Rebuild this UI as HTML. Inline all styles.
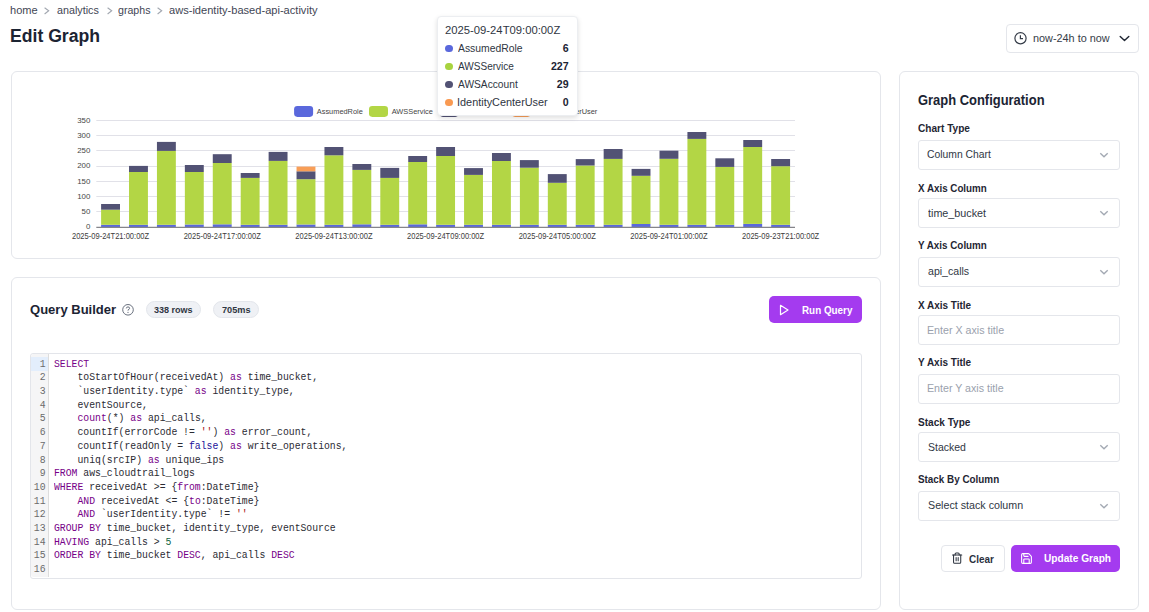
<!DOCTYPE html>
<html><head><meta charset="utf-8"><title>Edit Graph</title>
<style>
html,body{margin:0;padding:0;background:#ffffff;width:1149px;height:612px;overflow:hidden;position:relative}
.a{position:absolute}
.t{position:absolute;white-space:pre;font-family:"Liberation Sans",sans-serif}
.m{position:absolute;white-space:pre;font-family:"Liberation Mono",monospace;font-size:10.5px;line-height:13.65px;height:13.65px;color:#2b2b33}
.box{position:absolute;box-sizing:border-box;border:1px solid #e4e6eb;background:#ffffff}
</style></head><body>
<div class="t" style="left:9.88px;top:5.46px;font-size:10.8px;line-height:10.8px;font-weight:400;color:#3f4654;transform:scaleX(1.0230);transform-origin:0 0;">home</div>
<div class="t" style="left:56.52px;top:5.46px;font-size:10.8px;line-height:10.8px;font-weight:400;color:#3f4654;transform:scaleX(0.9964);transform-origin:0 0;">analytics</div>
<div class="t" style="left:117.88px;top:5.46px;font-size:10.8px;line-height:10.8px;font-weight:400;color:#3f4654;transform:scaleX(0.9833);transform-origin:0 0;">graphs</div>
<div class="t" style="left:169.10px;top:5.46px;font-size:10.8px;line-height:10.8px;font-weight:400;color:#3f4654;transform:scaleX(1.0269);transform-origin:0 0;">aws-identity-based-api-activity</div>
<svg class="a" style="left:44.0px;top:6.6px" width="6" height="8" viewBox="0 0 6 8"><path d="M0.6 0.7 L4.7 3.8 L0.6 7.0" fill="none" stroke="#a2a7b0" stroke-width="1.1"/></svg>
<svg class="a" style="left:106.5px;top:6.6px" width="6" height="8" viewBox="0 0 6 8"><path d="M0.6 0.7 L4.7 3.8 L0.6 7.0" fill="none" stroke="#a2a7b0" stroke-width="1.1"/></svg>
<svg class="a" style="left:157.0px;top:6.6px" width="6" height="8" viewBox="0 0 6 8"><path d="M0.6 0.7 L4.7 3.8 L0.6 7.0" fill="none" stroke="#a2a7b0" stroke-width="1.1"/></svg>
<div class="t" style="left:10.35px;top:27.11px;font-size:18.3px;line-height:18.3px;font-weight:700;color:#1c2433;transform:scaleX(0.9635);transform-origin:0 0;">Edit Graph</div>
<div class="box" style="left:1006px;top:24px;width:133px;height:29px;border-radius:4px"></div>
<svg class="a" style="left:1013px;top:31px" width="15" height="15" viewBox="0 0 15 15"><circle cx="7.5" cy="7.3" r="5.6" fill="none" stroke="#353c48" stroke-width="1.2"/><path d="M7.4 4.2 V7.6 H10" fill="none" stroke="#353c48" stroke-width="1.2"/></svg>
<div class="t" style="left:1033.29px;top:33.29px;font-size:11.0px;line-height:11.0px;font-weight:400;color:#353c48;transform:scaleX(0.9870);transform-origin:0 0;">now-24h to now</div>
<svg class="a" style="left:1119px;top:34px" width="11" height="9" viewBox="0 0 11 9"><path d="M1.2 2.4 L5.5 6.6 L9.8 2.4" fill="none" stroke="#1f2633" stroke-width="1.4" stroke-linecap="round" stroke-linejoin="round"/></svg>
<div class="box" style="left:11px;top:71px;width:870px;height:188px;border-radius:6px"></div>
<svg class="a" style="left:0;top:0" width="1149" height="612" viewBox="0 0 1149 612"><line x1="96.3" y1="211.50" x2="795" y2="211.50" stroke="#e1e1e8" stroke-width="1"/><line x1="96.3" y1="196.50" x2="795" y2="196.50" stroke="#e1e1e8" stroke-width="1"/><line x1="96.3" y1="181.50" x2="795" y2="181.50" stroke="#e1e1e8" stroke-width="1"/><line x1="96.3" y1="166.50" x2="795" y2="166.50" stroke="#e1e1e8" stroke-width="1"/><line x1="96.3" y1="150.50" x2="795" y2="150.50" stroke="#e1e1e8" stroke-width="1"/><line x1="96.3" y1="135.50" x2="795" y2="135.50" stroke="#e1e1e8" stroke-width="1"/><line x1="96.3" y1="120.50" x2="795" y2="120.50" stroke="#e1e1e8" stroke-width="1"/><text x="90.3" y="229.40" text-anchor="end" font-family="Liberation Sans" font-size="7.9" fill="#484848">0</text><text x="90.3" y="214.16" text-anchor="end" font-family="Liberation Sans" font-size="7.9" fill="#484848">50</text><text x="90.3" y="198.91" text-anchor="end" font-family="Liberation Sans" font-size="7.9" fill="#484848">100</text><text x="90.3" y="183.67" text-anchor="end" font-family="Liberation Sans" font-size="7.9" fill="#484848">150</text><text x="90.3" y="168.43" text-anchor="end" font-family="Liberation Sans" font-size="7.9" fill="#484848">200</text><text x="90.3" y="153.19" text-anchor="end" font-family="Liberation Sans" font-size="7.9" fill="#484848">250</text><text x="90.3" y="137.94" text-anchor="end" font-family="Liberation Sans" font-size="7.9" fill="#484848">300</text><text x="90.3" y="122.70" text-anchor="end" font-family="Liberation Sans" font-size="7.9" fill="#484848">350</text><rect x="101.10" y="224.80" width="18.9" height="2.50" fill="#5a68dc"/><rect x="101.10" y="209.70" width="18.9" height="15.10" fill="#b3d645"/><rect x="101.10" y="204.00" width="18.9" height="5.70" fill="#525274"/><rect x="129.02" y="224.80" width="18.9" height="2.50" fill="#5a68dc"/><rect x="129.02" y="172.00" width="18.9" height="52.80" fill="#b3d645"/><rect x="129.02" y="165.90" width="18.9" height="6.10" fill="#525274"/><rect x="156.94" y="224.80" width="18.9" height="2.50" fill="#5a68dc"/><rect x="156.94" y="150.90" width="18.9" height="73.90" fill="#b3d645"/><rect x="156.94" y="141.90" width="18.9" height="9.00" fill="#525274"/><rect x="184.86" y="224.50" width="18.9" height="2.80" fill="#5a68dc"/><rect x="184.86" y="172.00" width="18.9" height="52.50" fill="#b3d645"/><rect x="184.86" y="165.00" width="18.9" height="7.00" fill="#525274"/><rect x="212.78" y="224.30" width="18.9" height="3.00" fill="#5a68dc"/><rect x="212.78" y="163.00" width="18.9" height="61.30" fill="#b3d645"/><rect x="212.78" y="154.20" width="18.9" height="8.80" fill="#525274"/><rect x="240.70" y="224.80" width="18.9" height="2.50" fill="#5a68dc"/><rect x="240.70" y="177.90" width="18.9" height="46.90" fill="#b3d645"/><rect x="240.70" y="173.00" width="18.9" height="4.90" fill="#525274"/><rect x="268.62" y="224.80" width="18.9" height="2.50" fill="#5a68dc"/><rect x="268.62" y="160.90" width="18.9" height="63.90" fill="#b3d645"/><rect x="268.62" y="151.90" width="18.9" height="9.00" fill="#525274"/><rect x="296.54" y="224.50" width="18.9" height="2.80" fill="#5a68dc"/><rect x="296.54" y="179.20" width="18.9" height="45.30" fill="#b3d645"/><rect x="296.54" y="171.30" width="18.9" height="7.90" fill="#525274"/><rect x="296.54" y="166.60" width="18.9" height="4.70" fill="#f89e57"/><rect x="324.46" y="224.80" width="18.9" height="2.50" fill="#5a68dc"/><rect x="324.46" y="155.30" width="18.9" height="69.50" fill="#b3d645"/><rect x="324.46" y="147.00" width="18.9" height="8.30" fill="#525274"/><rect x="352.38" y="224.30" width="18.9" height="3.00" fill="#5a68dc"/><rect x="352.38" y="169.90" width="18.9" height="54.40" fill="#b3d645"/><rect x="352.38" y="164.00" width="18.9" height="5.90" fill="#525274"/><rect x="380.30" y="224.80" width="18.9" height="2.50" fill="#5a68dc"/><rect x="380.30" y="177.90" width="18.9" height="46.90" fill="#b3d645"/><rect x="380.30" y="167.90" width="18.9" height="10.00" fill="#525274"/><rect x="408.22" y="224.30" width="18.9" height="3.00" fill="#5a68dc"/><rect x="408.22" y="162.00" width="18.9" height="62.30" fill="#b3d645"/><rect x="408.22" y="156.00" width="18.9" height="6.00" fill="#525274"/><rect x="436.14" y="224.80" width="18.9" height="2.50" fill="#5a68dc"/><rect x="436.14" y="156.00" width="18.9" height="68.80" fill="#b3d645"/><rect x="436.14" y="147.00" width="18.9" height="9.00" fill="#525274"/><rect x="464.06" y="224.80" width="18.9" height="2.50" fill="#5a68dc"/><rect x="464.06" y="174.90" width="18.9" height="49.90" fill="#b3d645"/><rect x="464.06" y="168.10" width="18.9" height="6.80" fill="#525274"/><rect x="491.98" y="224.80" width="18.9" height="2.50" fill="#5a68dc"/><rect x="491.98" y="161.00" width="18.9" height="63.80" fill="#b3d645"/><rect x="491.98" y="153.00" width="18.9" height="8.00" fill="#525274"/><rect x="519.90" y="224.80" width="18.9" height="2.50" fill="#5a68dc"/><rect x="519.90" y="167.70" width="18.9" height="57.10" fill="#b3d645"/><rect x="519.90" y="160.10" width="18.9" height="7.60" fill="#525274"/><rect x="547.82" y="224.80" width="18.9" height="2.50" fill="#5a68dc"/><rect x="547.82" y="182.80" width="18.9" height="42.00" fill="#b3d645"/><rect x="547.82" y="174.10" width="18.9" height="8.70" fill="#525274"/><rect x="575.74" y="224.80" width="18.9" height="2.50" fill="#5a68dc"/><rect x="575.74" y="165.50" width="18.9" height="59.30" fill="#b3d645"/><rect x="575.74" y="159.10" width="18.9" height="6.40" fill="#525274"/><rect x="603.66" y="224.80" width="18.9" height="2.50" fill="#5a68dc"/><rect x="603.66" y="158.90" width="18.9" height="65.90" fill="#b3d645"/><rect x="603.66" y="149.00" width="18.9" height="9.90" fill="#525274"/><rect x="631.58" y="224.00" width="18.9" height="3.30" fill="#5a68dc"/><rect x="631.58" y="175.80" width="18.9" height="48.20" fill="#b3d645"/><rect x="631.58" y="168.90" width="18.9" height="6.90" fill="#525274"/><rect x="659.50" y="224.80" width="18.9" height="2.50" fill="#5a68dc"/><rect x="659.50" y="158.80" width="18.9" height="66.00" fill="#b3d645"/><rect x="659.50" y="150.70" width="18.9" height="8.10" fill="#525274"/><rect x="687.42" y="224.80" width="18.9" height="2.50" fill="#5a68dc"/><rect x="687.42" y="138.90" width="18.9" height="85.90" fill="#b3d645"/><rect x="687.42" y="132.00" width="18.9" height="6.90" fill="#525274"/><rect x="715.34" y="224.80" width="18.9" height="2.50" fill="#5a68dc"/><rect x="715.34" y="166.90" width="18.9" height="57.90" fill="#b3d645"/><rect x="715.34" y="158.30" width="18.9" height="8.60" fill="#525274"/><rect x="743.26" y="223.90" width="18.9" height="3.40" fill="#5a68dc"/><rect x="743.26" y="147.00" width="18.9" height="76.90" fill="#b3d645"/><rect x="743.26" y="140.00" width="18.9" height="7.00" fill="#525274"/><rect x="771.18" y="224.80" width="18.9" height="2.50" fill="#5a68dc"/><rect x="771.18" y="166.20" width="18.9" height="58.60" fill="#b3d645"/><rect x="771.18" y="159.00" width="18.9" height="7.20" fill="#525274"/><line x1="96.3" y1="227.30" x2="795" y2="227.30" stroke="#85858a" stroke-width="1.2"/><text x="71.95" y="238.9" font-family="Liberation Sans" font-size="8.6" fill="#3d3d3d" textLength="77.2" lengthAdjust="spacingAndGlyphs">2025-09-24T21:00:00Z</text><text x="183.63" y="238.9" font-family="Liberation Sans" font-size="8.6" fill="#3d3d3d" textLength="77.2" lengthAdjust="spacingAndGlyphs">2025-09-24T17:00:00Z</text><text x="295.31" y="238.9" font-family="Liberation Sans" font-size="8.6" fill="#3d3d3d" textLength="77.2" lengthAdjust="spacingAndGlyphs">2025-09-24T13:00:00Z</text><text x="406.99" y="238.9" font-family="Liberation Sans" font-size="8.6" fill="#3d3d3d" textLength="77.2" lengthAdjust="spacingAndGlyphs">2025-09-24T09:00:00Z</text><text x="518.67" y="238.9" font-family="Liberation Sans" font-size="8.6" fill="#3d3d3d" textLength="77.2" lengthAdjust="spacingAndGlyphs">2025-09-24T05:00:00Z</text><text x="630.35" y="238.9" font-family="Liberation Sans" font-size="8.6" fill="#3d3d3d" textLength="77.2" lengthAdjust="spacingAndGlyphs">2025-09-24T01:00:00Z</text><text x="742.03" y="238.9" font-family="Liberation Sans" font-size="8.6" fill="#3d3d3d" textLength="77.2" lengthAdjust="spacingAndGlyphs">2025-09-23T21:00:00Z</text><rect x="294.1" y="105.9" width="19" height="11" rx="3.3" fill="#5a68dc"/><text x="316.8" y="113.9" font-family="Liberation Sans" font-size="7.4" fill="#444">AssumedRole</text><rect x="369.0" y="105.9" width="19" height="11" rx="3.3" fill="#b3d645"/><text x="391.7" y="113.9" font-family="Liberation Sans" font-size="7.4" fill="#444">AWSService</text><rect x="439.6" y="105.9" width="19" height="11" rx="3.3" fill="#525274"/><text x="463.7" y="113.9" font-family="Liberation Sans" font-size="7.4" fill="#444">AWSAccount</text><rect x="511.8" y="105.9" width="19" height="11" rx="3.3" fill="#f89e57"/><text x="535.7" y="113.9" font-family="Liberation Sans" font-size="7.4" fill="#444">IdentityCenterUser</text></svg>
<div class="box" style="left:437px;top:16.3px;width:140.6px;height:100px;border-radius:4px;border-color:#eceef1;box-shadow:0 2px 5px rgba(0,0,0,0.13)"></div>
<div class="t" style="left:444.74px;top:25.36px;font-size:10.8px;line-height:10.8px;font-weight:400;color:#2f3642;transform:scaleX(1.0436);transform-origin:0 0;">2025-09-24T09:00:00Z</div>
<div class="a" style="left:445.2px;top:44.60px;width:7.4px;height:7.4px;border-radius:50%;background:#5a68dc"></div>
<div class="t" style="left:457.55px;top:43.36px;font-size:10.8px;line-height:10.8px;font-weight:400;color:#2f3642;transform:scaleX(0.9612);transform-origin:0 0;">AssumedRole</div>
<div class="t" style="left:520px;width:48.6px;text-align:right;top:42.93px;font-size:10.6px;line-height:10.6px;font-weight:700;color:#1c2433">6</div>
<div class="a" style="left:445.2px;top:62.60px;width:7.4px;height:7.4px;border-radius:50%;background:#a8d33f"></div>
<div class="t" style="left:457.55px;top:61.36px;font-size:10.8px;line-height:10.8px;font-weight:400;color:#2f3642;transform:scaleX(0.9284);transform-origin:0 0;">AWSService</div>
<div class="t" style="left:520px;width:48.6px;text-align:right;top:60.93px;font-size:10.6px;line-height:10.6px;font-weight:700;color:#1c2433">227</div>
<div class="a" style="left:445.2px;top:80.60px;width:7.4px;height:7.4px;border-radius:50%;background:#525274"></div>
<div class="t" style="left:457.55px;top:79.36px;font-size:10.8px;line-height:10.8px;font-weight:400;color:#2f3642;transform:scaleX(0.9450);transform-origin:0 0;">AWSAccount</div>
<div class="t" style="left:520px;width:48.6px;text-align:right;top:78.93px;font-size:10.6px;line-height:10.6px;font-weight:700;color:#1c2433">29</div>
<div class="a" style="left:445.2px;top:98.60px;width:7.4px;height:7.4px;border-radius:50%;background:#f99a52"></div>
<div class="t" style="left:456.62px;top:97.36px;font-size:10.8px;line-height:10.8px;font-weight:400;color:#2f3642;transform:scaleX(1.0081);transform-origin:0 0;">IdentityCenterUser</div>
<div class="t" style="left:520px;width:48.6px;text-align:right;top:96.93px;font-size:10.6px;line-height:10.6px;font-weight:700;color:#1c2433">0</div>
<div class="box" style="left:11px;top:277px;width:870px;height:333px;border-radius:6px"></div>
<div class="t" style="left:29.53px;top:303.14px;font-size:13.3px;line-height:13.3px;font-weight:700;color:#1c2433;transform:scaleX(0.9794);transform-origin:0 0;">Query Builder</div>
<svg class="a" style="left:121px;top:303px" width="14" height="14" viewBox="0 0 14 14"><circle cx="7" cy="6.8" r="5.3" fill="none" stroke="#6b7280" stroke-width="1"/><path d="M5.3 5.4 Q5.4 3.9 7 3.9 Q8.6 3.9 8.6 5.3 Q8.6 6.3 7 6.9 V7.6" fill="none" stroke="#6b7280" stroke-width="1"/><circle cx="7" cy="9.4" r="0.6" fill="#6b7280"/></svg>
<div class="box" style="left:146.1px;top:301.1px;width:54.7px;height:16.5px;border-radius:9px;background:#eff1f5;border-color:#e3e6eb"></div>
<div class="t" style="left:154.37px;top:305.61px;font-size:9.2px;line-height:9.2px;font-weight:700;color:#2f3642;transform:scaleX(0.9825);transform-origin:0 0;">338 rows</div>
<div class="box" style="left:213.2px;top:301.1px;width:45.4px;height:16.5px;border-radius:9px;background:#eff1f5;border-color:#e3e6eb"></div>
<div class="t" style="left:221.89px;top:305.61px;font-size:9.2px;line-height:9.2px;font-weight:700;color:#2f3642;transform:scaleX(0.9973);transform-origin:0 0;">705ms</div>
<div class="a" style="left:769.1px;top:296.1px;width:92.8px;height:26.7px;border-radius:5px;background:#a43bef"></div>
<svg class="a" style="left:778px;top:303px" width="12" height="14" viewBox="0 0 12 14"><path d="M2.5 2.3 L10 7 L2.5 11.7 Z" fill="none" stroke="#fff" stroke-width="1.2" stroke-linejoin="round"/></svg>
<div class="t" style="left:801.76px;top:304.86px;font-size:10.8px;line-height:10.8px;font-weight:700;color:#ffffff;transform:scaleX(0.9131);transform-origin:0 0;">Run Query</div>
<div class="box" style="left:30px;top:353px;width:832px;height:226px;border-radius:3px;overflow:hidden;border-color:#e3e5ea"></div>
<div class="a" style="left:31.3px;top:354px;width:16.8px;height:223px;background:#f5f5f6;border-right:1px solid #dddddd;border-radius:3px 0 0 3px"></div>
<div class="a" style="left:31.3px;top:356.9px;width:16.8px;height:13.9px;background:#e3eefc"></div>
<div class="m" style="left:53.9px;top:357.60px;transform:scaleX(0.9314);transform-origin:0 0"><span style="color:#770088">SELECT</span></div>
<div class="m" style="left:20px;width:25.6px;text-align:right;top:357.60px;color:#6b6b6b;transform:scaleX(0.9314);transform-origin:100% 0">1</div>
<div class="m" style="left:53.9px;top:371.30px;transform:scaleX(0.9314);transform-origin:0 0">    toStartOfHour(receivedAt) <span style="color:#770088">as</span> time_bucket,</div>
<div class="m" style="left:20px;width:25.6px;text-align:right;top:371.30px;color:#6b6b6b;transform:scaleX(0.9314);transform-origin:100% 0">2</div>
<div class="m" style="left:53.9px;top:385.00px;transform:scaleX(0.9314);transform-origin:0 0">    `userIdentity.type` <span style="color:#770088">as</span> identity_type,</div>
<div class="m" style="left:20px;width:25.6px;text-align:right;top:385.00px;color:#6b6b6b;transform:scaleX(0.9314);transform-origin:100% 0">3</div>
<div class="m" style="left:53.9px;top:398.70px;transform:scaleX(0.9314);transform-origin:0 0">    eventSource,</div>
<div class="m" style="left:20px;width:25.6px;text-align:right;top:398.70px;color:#6b6b6b;transform:scaleX(0.9314);transform-origin:100% 0">4</div>
<div class="m" style="left:53.9px;top:412.40px;transform:scaleX(0.9314);transform-origin:0 0">    <span style="color:#770088">count</span>(*) <span style="color:#770088">as</span> api_calls,</div>
<div class="m" style="left:20px;width:25.6px;text-align:right;top:412.40px;color:#6b6b6b;transform:scaleX(0.9314);transform-origin:100% 0">5</div>
<div class="m" style="left:53.9px;top:426.10px;transform:scaleX(0.9314);transform-origin:0 0">    countIf(errorCode != <span style="color:#aa1111">''</span>) <span style="color:#770088">as</span> error_count,</div>
<div class="m" style="left:20px;width:25.6px;text-align:right;top:426.10px;color:#6b6b6b;transform:scaleX(0.9314);transform-origin:100% 0">6</div>
<div class="m" style="left:53.9px;top:439.80px;transform:scaleX(0.9314);transform-origin:0 0">    countIf(readOnly = <span style="color:#221199">false</span>) <span style="color:#770088">as</span> write_operations,</div>
<div class="m" style="left:20px;width:25.6px;text-align:right;top:439.80px;color:#6b6b6b;transform:scaleX(0.9314);transform-origin:100% 0">7</div>
<div class="m" style="left:53.9px;top:453.50px;transform:scaleX(0.9314);transform-origin:0 0">    uniq(srcIP) <span style="color:#770088">as</span> unique_ips</div>
<div class="m" style="left:20px;width:25.6px;text-align:right;top:453.50px;color:#6b6b6b;transform:scaleX(0.9314);transform-origin:100% 0">8</div>
<div class="m" style="left:53.9px;top:467.20px;transform:scaleX(0.9314);transform-origin:0 0"><span style="color:#770088">FROM</span> aws_cloudtrail_logs</div>
<div class="m" style="left:20px;width:25.6px;text-align:right;top:467.20px;color:#6b6b6b;transform:scaleX(0.9314);transform-origin:100% 0">9</div>
<div class="m" style="left:53.9px;top:480.90px;transform:scaleX(0.9314);transform-origin:0 0"><span style="color:#770088">WHERE</span> receivedAt &gt;= {<span style="color:#770088">from</span>:DateTime}</div>
<div class="m" style="left:20px;width:25.6px;text-align:right;top:480.90px;color:#6b6b6b;transform:scaleX(0.9314);transform-origin:100% 0">10</div>
<div class="m" style="left:53.9px;top:494.60px;transform:scaleX(0.9314);transform-origin:0 0">    <span style="color:#770088">AND</span> receivedAt &lt;= {<span style="color:#770088">to</span>:DateTime}</div>
<div class="m" style="left:20px;width:25.6px;text-align:right;top:494.60px;color:#6b6b6b;transform:scaleX(0.9314);transform-origin:100% 0">11</div>
<div class="m" style="left:53.9px;top:508.30px;transform:scaleX(0.9314);transform-origin:0 0">    <span style="color:#770088">AND</span> `userIdentity.type` != <span style="color:#aa1111">''</span></div>
<div class="m" style="left:20px;width:25.6px;text-align:right;top:508.30px;color:#6b6b6b;transform:scaleX(0.9314);transform-origin:100% 0">12</div>
<div class="m" style="left:53.9px;top:522.00px;transform:scaleX(0.9314);transform-origin:0 0"><span style="color:#770088">GROUP BY</span> time_bucket, identity_type, eventSource</div>
<div class="m" style="left:20px;width:25.6px;text-align:right;top:522.00px;color:#6b6b6b;transform:scaleX(0.9314);transform-origin:100% 0">13</div>
<div class="m" style="left:53.9px;top:535.70px;transform:scaleX(0.9314);transform-origin:0 0"><span style="color:#770088">HAVING</span> api_calls &gt; <span style="color:#116644">5</span></div>
<div class="m" style="left:20px;width:25.6px;text-align:right;top:535.70px;color:#6b6b6b;transform:scaleX(0.9314);transform-origin:100% 0">14</div>
<div class="m" style="left:53.9px;top:549.40px;transform:scaleX(0.9314);transform-origin:0 0"><span style="color:#770088">ORDER BY</span> time_bucket <span style="color:#770088">DESC</span>, api_calls <span style="color:#770088">DESC</span></div>
<div class="m" style="left:20px;width:25.6px;text-align:right;top:549.40px;color:#6b6b6b;transform:scaleX(0.9314);transform-origin:100% 0">15</div>
<div class="m" style="left:53.9px;top:563.10px;transform:scaleX(0.9314);transform-origin:0 0"></div>
<div class="m" style="left:20px;width:25.6px;text-align:right;top:563.10px;color:#6b6b6b;transform:scaleX(0.9314);transform-origin:100% 0">16</div>
<div class="box" style="left:899px;top:71px;width:240px;height:539px;border-radius:6px"></div>
<div class="t" style="left:917.58px;top:93.93px;font-size:13.9px;line-height:13.9px;font-weight:700;color:#1c2433;transform:scaleX(0.9317);transform-origin:0 0;">Graph Configuration</div>
<div class="t" style="left:917.60px;top:123.46px;font-size:10.8px;line-height:10.8px;font-weight:700;color:#1f2633;transform:scaleX(0.9341);transform-origin:0 0;">Chart Type</div>
<div class="box" style="left:918px;top:140px;width:202px;height:30px;border-radius:3px"></div>
<div class="t" style="left:927.48px;top:148.93px;font-size:10.6px;line-height:10.6px;font-weight:400;color:#303744;transform:scaleX(0.9774);transform-origin:0 0;">Column Chart</div>
<svg class="a" style="left:1099px;top:151.50px" width="10" height="6" viewBox="0 0 10 6"><path d="M1.3 1.2 L5 4.8 L8.7 1.2" fill="none" stroke="#a3a9b3" stroke-width="1.35"/></svg>
<div class="t" style="left:917.90px;top:182.66px;font-size:10.8px;line-height:10.8px;font-weight:700;color:#1f2633;transform:scaleX(0.9073);transform-origin:0 0;">X Axis Column</div>
<div class="box" style="left:918px;top:198px;width:202px;height:30px;border-radius:3px"></div>
<div class="t" style="left:927.84px;top:208.13px;font-size:10.6px;line-height:10.6px;font-weight:400;color:#303744;transform:scaleX(1.0154);transform-origin:0 0;">time_bucket</div>
<svg class="a" style="left:1099px;top:209.50px" width="10" height="6" viewBox="0 0 10 6"><path d="M1.3 1.2 L5 4.8 L8.7 1.2" fill="none" stroke="#a3a9b3" stroke-width="1.35"/></svg>
<div class="t" style="left:917.80px;top:240.26px;font-size:10.8px;line-height:10.8px;font-weight:700;color:#1f2633;transform:scaleX(0.9112);transform-origin:0 0;">Y Axis Column</div>
<div class="box" style="left:918px;top:257px;width:202px;height:30px;border-radius:3px"></div>
<div class="t" style="left:927.52px;top:265.93px;font-size:10.6px;line-height:10.6px;font-weight:400;color:#303744;transform:scaleX(0.9979);transform-origin:0 0;">api_calls</div>
<svg class="a" style="left:1099px;top:268.50px" width="10" height="6" viewBox="0 0 10 6"><path d="M1.3 1.2 L5 4.8 L8.7 1.2" fill="none" stroke="#a3a9b3" stroke-width="1.35"/></svg>
<div class="t" style="left:917.90px;top:299.66px;font-size:10.8px;line-height:10.8px;font-weight:700;color:#1f2633;transform:scaleX(0.9224);transform-origin:0 0;">X Axis Title</div>
<div class="box" style="left:918px;top:315px;width:202px;height:30px;border-radius:3px"></div>
<div class="t" style="left:927.15px;top:325.13px;font-size:10.6px;line-height:10.6px;font-weight:400;color:#9aa1ad;transform:scaleX(1.0072);transform-origin:0 0;">Enter X axis title</div>
<div class="t" style="left:917.80px;top:357.26px;font-size:10.8px;line-height:10.8px;font-weight:700;color:#1f2633;transform:scaleX(0.9242);transform-origin:0 0;">Y Axis Title</div>
<div class="box" style="left:918px;top:374px;width:202px;height:30px;border-radius:3px"></div>
<div class="t" style="left:927.15px;top:383.43px;font-size:10.6px;line-height:10.6px;font-weight:400;color:#9aa1ad;transform:scaleX(1.0055);transform-origin:0 0;">Enter Y axis title</div>
<div class="t" style="left:917.70px;top:416.66px;font-size:10.8px;line-height:10.8px;font-weight:700;color:#1f2633;transform:scaleX(0.9331);transform-origin:0 0;">Stack Type</div>
<div class="box" style="left:918px;top:432px;width:202px;height:30px;border-radius:3px"></div>
<div class="t" style="left:927.53px;top:442.13px;font-size:10.6px;line-height:10.6px;font-weight:400;color:#303744;transform:scaleX(0.9919);transform-origin:0 0;">Stacked</div>
<svg class="a" style="left:1099px;top:443.50px" width="10" height="6" viewBox="0 0 10 6"><path d="M1.3 1.2 L5 4.8 L8.7 1.2" fill="none" stroke="#a3a9b3" stroke-width="1.35"/></svg>
<div class="t" style="left:917.70px;top:474.26px;font-size:10.8px;line-height:10.8px;font-weight:700;color:#1f2633;transform:scaleX(0.9140);transform-origin:0 0;">Stack By Column</div>
<div class="box" style="left:918px;top:491px;width:202px;height:30px;border-radius:3px"></div>
<div class="t" style="left:927.52px;top:499.93px;font-size:10.6px;line-height:10.6px;font-weight:400;color:#303744;transform:scaleX(1.0100);transform-origin:0 0;">Select stack column</div>
<svg class="a" style="left:1099px;top:502.50px" width="10" height="6" viewBox="0 0 10 6"><path d="M1.3 1.2 L5 4.8 L8.7 1.2" fill="none" stroke="#a3a9b3" stroke-width="1.35"/></svg>
<div class="box" style="left:941px;top:545px;width:64px;height:27px;border-radius:4px"></div>
<svg class="a" style="left:951.4px;top:552.1px" width="12.3" height="12.3" viewBox="0 0 24 24" fill="none" stroke="#2a313d" stroke-width="2" stroke-linecap="round" stroke-linejoin="round"><path d="M3 6h18"/><path d="M19 6v14c0 1-1 2-2 2H7c-1 0-2-1-2-2V6"/><path d="M8 6V4c0-1 1-2 2-2h4c1 0 2 1 2 2v2"/><line x1="10" x2="10" y1="11" y2="17"/><line x1="14" x2="14" y1="11" y2="17"/></svg>
<div class="t" style="left:969.30px;top:553.63px;font-size:10.6px;line-height:10.6px;font-weight:700;color:#2a313d;transform:scaleX(0.9376);transform-origin:0 0;">Clear</div>
<div class="a" style="left:1011.1px;top:545.4px;width:108.6px;height:26.2px;border-radius:5px;background:#a43bef"></div>
<svg class="a" style="left:1019.6px;top:551.5px" width="13" height="13" viewBox="0 0 24 24" fill="none" stroke="#ffffff" stroke-width="2" stroke-linecap="round" stroke-linejoin="round"><path d="M15.2 3a2 2 0 0 1 1.4.6l3.8 3.8a2 2 0 0 1 .6 1.4V19a2 2 0 0 1-2 2H5a2 2 0 0 1-2-2V5a2 2 0 0 1 2-2z"/><path d="M17 21v-7a1 1 0 0 0-1-1H8a1 1 0 0 0-1 1v7"/><path d="M7 3v4a1 1 0 0 0 1 1h7"/></svg>
<div class="t" style="left:1043.59px;top:553.46px;font-size:10.8px;line-height:10.8px;font-weight:700;color:#ffffff;transform:scaleX(0.9388);transform-origin:0 0;">Update Graph</div>

</body></html>
